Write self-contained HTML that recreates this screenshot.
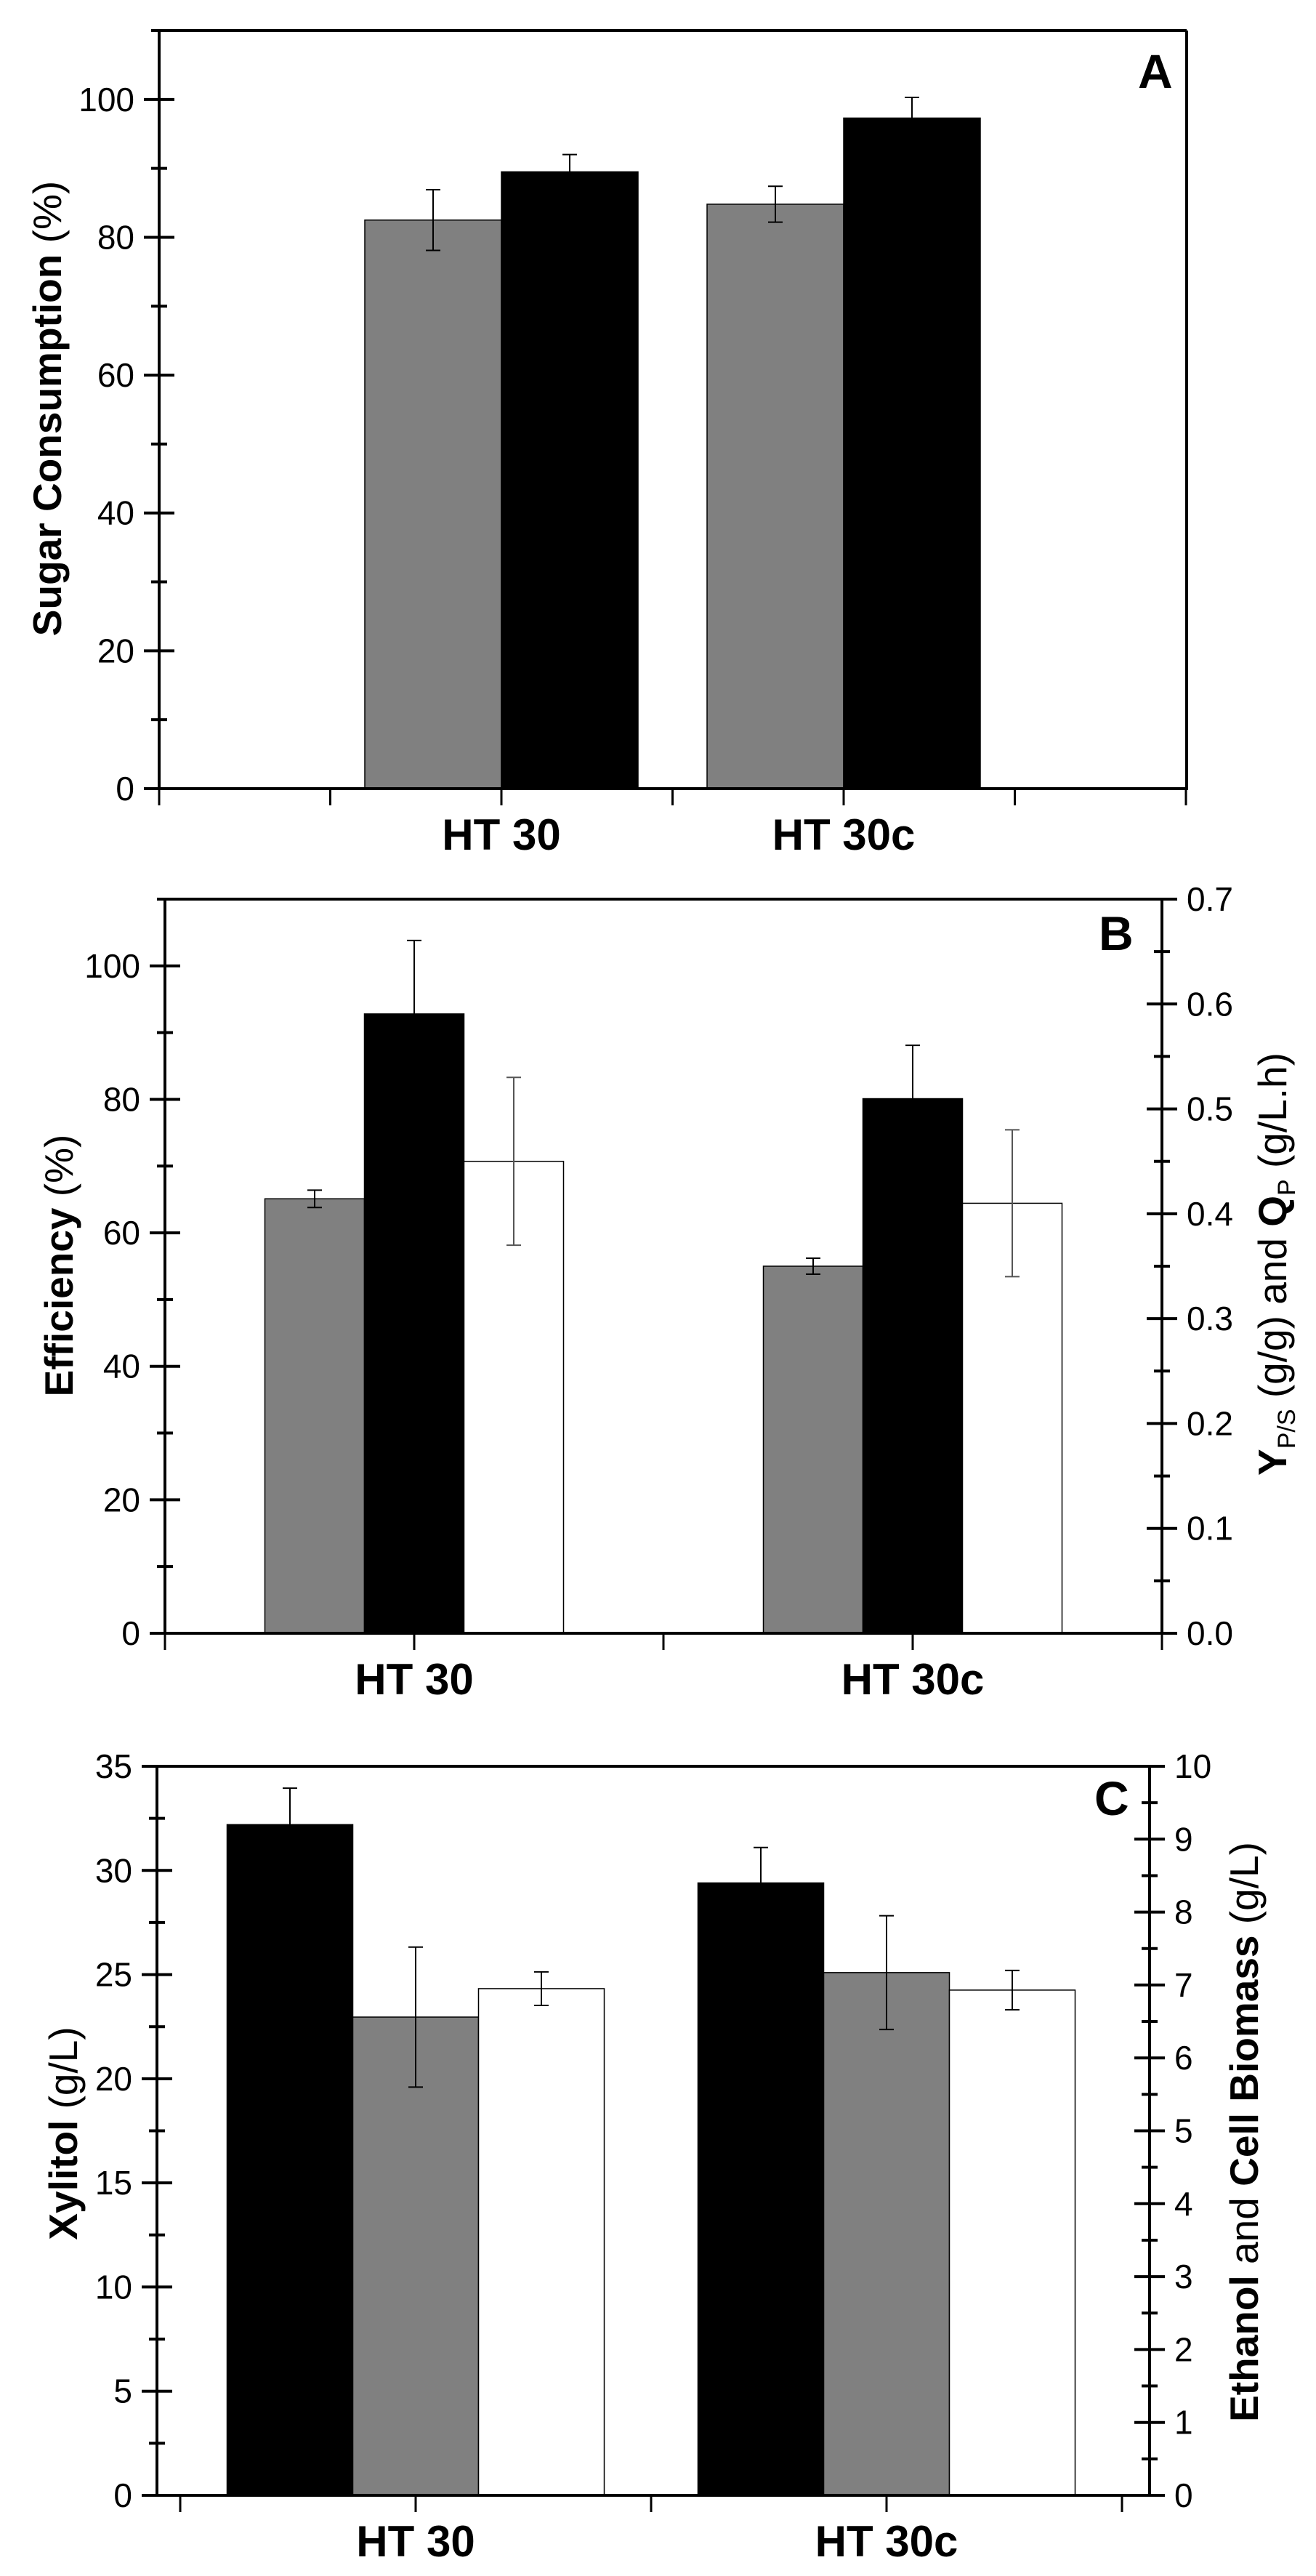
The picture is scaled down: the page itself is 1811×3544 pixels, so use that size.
<!DOCTYPE html>
<html><head><meta charset="utf-8">
<style>
html,body{margin:0;padding:0;background:#fff;}
svg{display:block;}
.tk{font-family:"Liberation Sans Narrow","Liberation Sans",sans-serif;font-size:46px;fill:#000;}
.cat{font-family:"Liberation Sans Narrow","Liberation Sans",sans-serif;font-size:60px;font-weight:bold;fill:#000;}
.ttl{font-family:"Liberation Sans",sans-serif;font-size:55px;fill:#000;}
.pl{font-family:"Liberation Sans",sans-serif;font-size:66px;font-weight:bold;fill:#000;}
</style></head>
<body>
<svg id="fig" width="1811" height="3544" viewBox="0 0 1811 3544" xmlns="http://www.w3.org/2000/svg">
<rect x="0" y="0" width="1811" height="3544" fill="#fff"/>
<text class="pl" x="1566" y="121">A</text>
<text class="pl" x="1512" y="1307">B</text>
<text class="pl" x="1506" y="2497">C</text>
<text class="ttl" transform="translate(84,562) rotate(-90)" text-anchor="middle" font-size="60"><tspan font-weight="bold">Sugar Consumption</tspan> (%)</text>
<text class="ttl" transform="translate(100,1741) rotate(-90)" text-anchor="middle"><tspan font-weight="bold">Efficiency</tspan> (%)</text>
<text class="ttl" transform="translate(1770,1739) rotate(-90)" text-anchor="middle"><tspan font-weight="bold">Y</tspan><tspan font-size="34" dy="12">P/S</tspan><tspan dy="-12"> (g/g) and </tspan><tspan font-weight="bold">Q</tspan><tspan font-size="34" dy="12">P</tspan><tspan dy="-12"> (g/L.h)</tspan></text>
<text class="ttl" transform="translate(106,2935) rotate(-90)" text-anchor="middle"><tspan font-weight="bold">Xylitol</tspan> (g/L)</text>
<text class="ttl" transform="translate(1731,2933) rotate(-90)" text-anchor="middle"><tspan font-weight="bold">Ethanol</tspan> and <tspan font-weight="bold">Cell Biomass</tspan> (g/L)</text>
</svg>
<script>
// ---- data ----
const categories = ["HT 30", "HT 30c"];
const aTicks = [0, 20, 40, 60, 80, 100];
const aGray = [82.5, 84.8];
const aGrayErr = [4.4, 2.6];
const aBlack = [89.5, 97.3];
const aBlackErr = [2.5, 3.0];

const bTicks = [0, 20, 40, 60, 80, 100];
const bTicksRight = ["0.0","0.1","0.2","0.3","0.4","0.5","0.6","0.7"];
const bGray = [65.1, 55.0];
const bGrayErr = [1.3, 1.2];
const bBlack = [92.8, 80.1];
const bBlackErr = [11.0, 8.0];
const bWhite = [0.45, 0.41];
const bWhiteErr = [0.08, 0.07];

const cTicks = [0, 5, 10, 15, 20, 25, 30, 35];
const cTicksRight = [0,1,2,3,4,5,6,7,8,9,10];
const cBlack = [32.2, 29.4];
const cBlackErr = [1.75, 1.7];
const cGray = [6.56, 7.17];
const cGrayErr = [0.96, 0.78];
const cWhite = [6.95, 6.93];
const cWhiteErr = [0.23, 0.27];

const NS = "http://www.w3.org/2000/svg";
const svg = document.getElementById("fig");
function mk(tag, attrs) {
  const e = document.createElementNS(NS, tag);
  for (const k in attrs) e.setAttribute(k, attrs[k]);
  svg.appendChild(e);
  return e;
}
function line(x1,y1,x2,y2,w,c){ return mk("line",{x1:x1,y1:y1,x2:x2,y2:y2,stroke:c||"#000","stroke-width":w}); }

function panel(p) {
  const ys = v => p.y0 - (v - p.ymin) / (p.ymax - p.ymin) * (p.y0 - p.ytop);
  const ys2 = v => p.y0 - v / p.y2max * (p.y0 - p.ytop);
  const xs = v => p.xc0 + (v - 1) * p.step;
  let e;
  e = line(p.xl, p.ytop, p.xr, p.ytop, 4);
  
  
  e = line(p.xr, p.ytop, p.xr, p.y0, 4);
  
  
  p.series.forEach(s => {
    s.vals.forEach((v, i) => {
      const sc = s.right ? ys2 : ys;
      const x = xs(i + 1) + s.off * p.bw;
      const y = sc(v);
      const r = mk("rect", {x: x, y: y, width: p.bw, height: p.y0 - y, fill: s.fill, stroke: "#000", "stroke-width": 1.5});
      
      
      const cx = x + p.bw / 2, hi = sc(v + s.err[i]), lo = sc(v - s.err[i]);
      const g = mk("path", {d: `M${cx},${hi}V${lo}M${cx-10},${hi}H${cx+10}M${cx-10},${lo}H${cx+10}`, stroke: s.errc, "stroke-width": 2, fill: "none"});
      
      
    });
  });
  e = line(p.xl, p.ytop - 2, p.xl, p.y0 + 2, 4);
  
  
  e = line(p.xl - 2, p.y0, p.xr + 2, p.y0, 4);
  
  
  for (let k = 0; k < p.lticks.length; k++) {
    const v = p.lticks[k], y = ys(v);
    e = line(p.xl - 21, y, p.xl + 21, y, 4);
    
    
    const t = mk("text", {x: p.xl - 34, y: y + 16, "text-anchor": "end", class: "tk"});
    t.textContent = v;
    
    
    if (k < p.lticks.length - 1) {
      const ym = ys((v + p.lticks[k + 1]) / 2);
      e = line(p.xl - 11, ym, p.xl + 11, ym, 4);
      
      
    }
  }
  if (p.lminorTop) {
    const ym = ys(p.lminorTop);
    e = line(p.xl - 11, ym, p.xl + 11, ym, 4);
    
    
  }
  if (p.rticks) {
    for (let k = 0; k < p.rticks.length; k++) {
      const v = parseFloat(p.rticks[k]), y = ys2(v);
      e = line(p.xr - 21, y, p.xr + 21, y, 4);
      
      
      const t = mk("text", {x: p.xr + 34, y: y + 16, class: "tk"});
      t.textContent = p.rticks[k];
      
      
      if (k < p.rticks.length - 1) {
        const ym = ys2((v + parseFloat(p.rticks[k + 1])) / 2);
        e = line(p.xr - 11, ym, p.xr + 11, ym, 4);
        
        
      }
    }
  }
  p.xticks.forEach(v => {
    const x = xs(v);
    e = line(x, p.y0, x, p.y0 + 23, 3);
    
    
  });
  categories.forEach((c, i) => {
    const t = mk("text", {x: xs(i + 1), y: p.y0 + 84, "text-anchor": "middle", class: "cat"});
    t.textContent = c;
    
    
  });
}

panel({xl:219, xr:1633, ytop:42, y0:1085, ymin:0, ymax:110, xc0:690, step:471, bw:188,
  lticks:aTicks, lminorTop:110, xticks:[0,0.5,1,1.5,2,2.5,3],
  series:[
    {name:"gray", vals:aGray, err:aGrayErr, fill:"#808080", off:-1, errc:"#000"},
    {name:"black", vals:aBlack, err:aBlackErr, fill:"#000", off:0, errc:"#000"}
  ]});
panel({xl:227, xr:1599, ytop:1237, y0:2247, ymin:0, ymax:110, y2max:0.7, xc0:570, step:686, bw:137,
  lticks:bTicks, lminorTop:110, rticks:bTicksRight, xticks:[0.5,1,1.5,2,2.5],
  series:[
    {name:"gray", vals:bGray, err:bGrayErr, fill:"#808080", off:-1.5, errc:"#000"},
    {name:"black", vals:bBlack, err:bBlackErr, fill:"#000", off:-0.5, errc:"#000"},
    {name:"white", vals:bWhite, err:bWhiteErr, fill:"#fff", off:0.5, errc:"#555", right:true}
  ]});
panel({xl:216, xr:1582, ytop:2430, y0:3433, ymin:0, ymax:35, y2max:10, xc0:572, step:648, bw:173,
  lticks:cTicks, rticks:cTicksRight, xticks:[0.5,1,1.5,2,2.5],
  series:[
    {name:"black", vals:cBlack, err:cBlackErr, fill:"#000", off:-1.5, errc:"#000"},
    {name:"gray", vals:cGray, err:cGrayErr, fill:"#808080", off:-0.5, errc:"#000", right:true},
    {name:"white", vals:cWhite, err:cWhiteErr, fill:"#fff", off:0.5, errc:"#000", right:true}
  ]});
</script>
</body></html>
